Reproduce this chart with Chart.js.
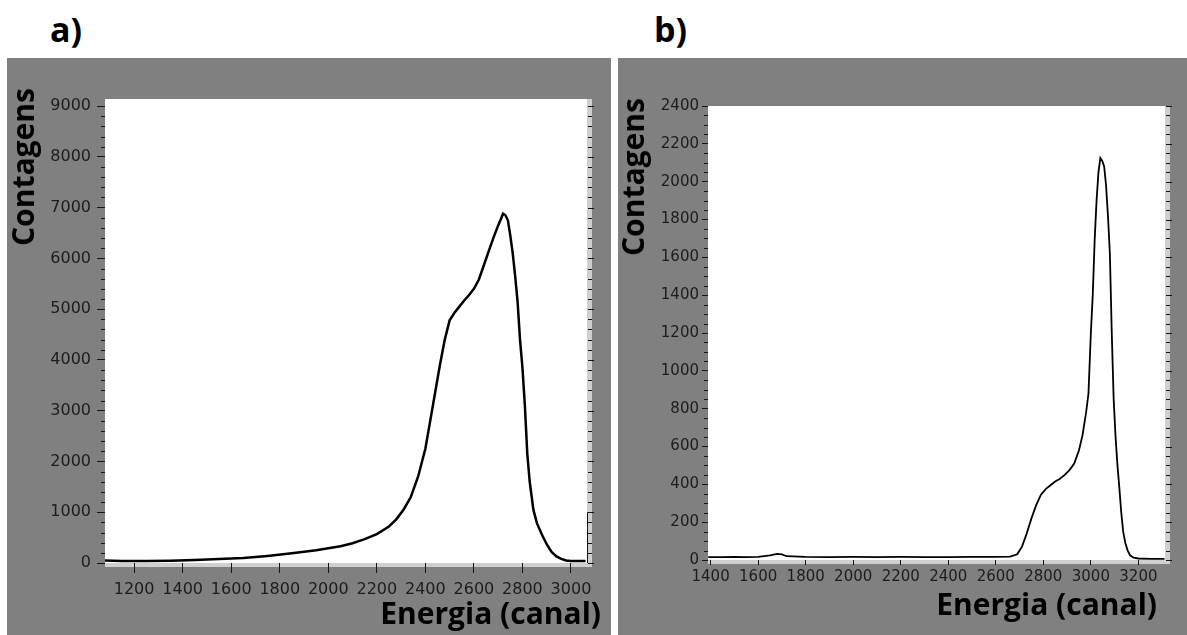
<!DOCTYPE html>
<html>
<head>
<meta charset="utf-8">
<script src="https://cdn.jsdelivr.net/npm/chart.js@4.4.1/dist/chart.umd.min.js"></script>
<style>
  html, body { margin: 0; padding: 0; background: #fff; }
  #page { position: relative; width: 1187px; height: 635px; overflow: hidden; }
  .panel { position: absolute; background: #808080; }
  .panel canvas { display: block; }
  .lbl { position: absolute; font-family: "Open Sans", Lato, sans-serif; font-weight: 700;
         color: #000; white-space: nowrap; line-height: 1; }
  .rot { transform: translate(-50%, -50%) rotate(-90deg); }
</style>
</head>
<body>
<div id="page">
  <div class="lbl" style="left:50px; top:12px; font-size:34px;">a)</div>
  <div class="lbl" style="left:654px; top:12px; font-size:34px;">b)</div>

  <div class="panel" style="left:7px; top:58px; width:604px; height:577px;">
    <canvas id="chart-a" width="604" height="577"></canvas>
  </div>
  <div class="panel" style="left:618px; top:58px; width:569px; height:577px;">
    <canvas id="chart-b" width="569" height="577"></canvas>
  </div>

  <div class="lbl rot" style="left:23px; top:167px; font-size:30px;">Contagens</div>
  <div class="lbl rot" style="left:633px; top:177px; font-size:30px;">Contagens</div>
  <div class="lbl" style="right:586px; top:598px; font-size:30px;">Energia (canal)</div>
  <div class="lbl" style="right:30px; top:589px; font-size:30px;">Energia (canal)</div>
</div>

<script>
// spectrum a) : channel vs counts
const channelsA = [1080, 1150, 1250, 1350, 1450, 1550, 1650, 1750, 1850, 1950, 2050, 2100,
  2150, 2200, 2250, 2280, 2310, 2340, 2370, 2400, 2420, 2440, 2460, 2480, 2500, 2520, 2540,
  2560, 2580, 2600, 2620, 2640, 2660, 2680, 2700, 2710, 2720, 2730, 2740, 2750, 2760, 2770,
  2780, 2790, 2800, 2810, 2820, 2830, 2845, 2860, 2880, 2900, 2920, 2940, 2960, 2980, 3000,
  3030, 3060];
const countsA = [50, 40, 40, 45, 60, 80, 100, 140, 190, 250, 330, 390,
  470, 570, 720, 860, 1050, 1300, 1700, 2250, 2800, 3350, 3900, 4400, 4780, 4930, 5050,
  5170, 5280, 5400, 5580, 5850, 6130, 6400, 6650, 6760, 6880, 6850, 6750, 6450, 6100, 5650,
  5150, 4400, 3850, 3100, 2150, 1600, 1050, 780, 560, 370, 220, 130, 80, 50, 40,
  40, 40];

// spectrum b)
const channelsB = [1390, 1450, 1500, 1550, 1600, 1650, 1680, 1700, 1720, 1800, 1900, 2000,
  2100, 2200, 2300, 2400, 2500, 2600, 2660, 2690, 2710, 2730, 2750, 2770, 2790, 2810, 2830,
  2850, 2870, 2890, 2910, 2930, 2950, 2965, 2980, 2990, 3000, 3008, 3016, 3024, 3032, 3040,
  3048, 3056, 3064, 3072, 3080, 3088, 3096, 3104, 3112, 3120, 3128, 3136, 3145, 3155, 3165,
  3180, 3200, 3250, 3310];
const countsB = [15, 15, 16, 15, 17, 25, 32, 30, 20, 16, 15, 16,
  15, 16, 15, 15, 16, 16, 18, 30, 70, 140, 220, 290, 345, 375, 395,
  415, 430, 450, 475, 510, 580, 660, 780, 880, 1200, 1400, 1690, 1900, 2050, 2125,
  2110, 2080, 1980, 1820, 1620, 1200, 850, 650, 500, 380, 250, 150, 90, 50, 25,
  12, 8, 6, 6];

// multiples of step inside [min, max]
function stepTicks(scale, step) {
  const out = [];
  for (let v = Math.ceil(scale.min / step) * step; v <= scale.max; v += step) {
    out.push({ value: v });
  }
  scale.ticks = out;
}

// white plot area, pale strips on the right/bottom edges, minor ticks
const framePlugin = {
  id: 'frame',
  beforeDraw(chart, args, opts) {
    const { ctx, chartArea: a } = chart;
    ctx.save();
    ctx.fillStyle = '#808080';
    ctx.fillRect(0, 0, chart.width, chart.height);
    ctx.fillStyle = '#ffffff';
    ctx.fillRect(a.left, a.top, a.right - a.left, a.bottom - a.top);
    ctx.fillStyle = '#cfcfcf';
    ctx.fillRect(a.left, a.bottom, a.right - a.left + opts.strip, opts.strip - 1);
    ctx.fillRect(a.right, a.top, opts.strip, a.bottom - a.top);
    ctx.restore();
  },
  afterDraw(chart, args, opts) {
    const { ctx, chartArea: a, scales: { y } } = chart;
    ctx.save();
    ctx.strokeStyle = '#151515';
    ctx.lineWidth = 1;
    ctx.beginPath();
    for (let v = 0; v <= y.max; v += opts.yMinor) {
      const py = Math.round(y.getPixelForValue(v)) + 0.5;
      const major = v % opts.yMajor === 0;
      if (!major) {
        ctx.moveTo(a.left - 4, py);
        ctx.lineTo(a.left, py);
      }
      ctx.moveTo(a.right + 1, py);
      ctx.lineTo(a.right + (major ? 7 : 5), py);
    }
    if (opts.marker) {
      const my = Math.round(y.getPixelForValue(opts.marker)) + 0.5;
      ctx.moveTo(a.right + 0.5, a.bottom);
      ctx.lineTo(a.right + 0.5, my);
      ctx.lineTo(a.right + 7, my);
    }
    ctx.stroke();
    ctx.restore();
  }
};

function makeSpectrum(id, channels, counts, cfg) {
  return new Chart(document.getElementById(id), {
    type: 'line',
    data: {
      datasets: [{
        data: channels.map((c, i) => ({ x: c, y: counts[i] })),
        borderColor: '#000',
        borderWidth: cfg.lineWidth,
        pointRadius: 0,
        tension: 0
      }]
    },
    options: {
      responsive: false,
      animation: false,
      events: [],
      layout: { padding: { top: cfg.padTop, right: cfg.padRight, left: 0, bottom: 0 } },
      plugins: {
        legend: { display: false },
        tooltip: { enabled: false },
        frame: { strip: 5, yMinor: cfg.yMinor, yMajor: cfg.yStep, marker: cfg.marker }
      },
      scales: {
        x: {
          type: 'linear',
          min: cfg.xMin,
          max: cfg.xMax,
          afterBuildTicks: s => stepTicks(s, 200),
          afterFit: s => { s.height = cfg.xAxisHeight; },
          border: { display: false },
          grid: { drawOnChartArea: false, tickLength: cfg.xTick, color: '#151515' },
          ticks: {
            autoSkip: false,
            maxRotation: 0,
            padding: cfg.xPad,
            color: '#1c1c1c',
            font: { family: 'DejaVu Sans', size: cfg.fontSize },
            callback: v => String(v)
          }
        },
        y: {
          min: 0,
          max: cfg.yMax,
          afterBuildTicks: s => stepTicks(s, cfg.yStep),
          afterFit: s => { s.width = cfg.yAxisWidth; },
          border: { display: false },
          grid: { drawOnChartArea: false, tickLength: cfg.yTick, color: '#151515' },
          ticks: {
            autoSkip: false,
            padding: cfg.yPad,
            color: '#1c1c1c',
            font: { family: 'DejaVu Sans', size: cfg.fontSize },
            callback: v => String(v)
          }
        }
      }
    },
    plugins: [framePlugin]
  });
}

const chartA = makeSpectrum('chart-a', channelsA, countsA, {
  xMin: 1080, xMax: 3066, yMax: 9140, yStep: 1000, yMinor: 200, marker: 1000,
  padTop: 41, padRight: 24, xAxisHeight: 72, yAxisWidth: 98,
  xTick: 10, xPad: 7, yTick: 8, yPad: 6, fontSize: 16, lineWidth: 2.5
});

const chartB = makeSpectrum('chart-b', channelsB, countsB, {
  xMin: 1389, xMax: 3312, yMax: 2400, yStep: 200, yMinor: 50, marker: null,
  padTop: 48, padRight: 22, xAxisHeight: 75, yAxisWidth: 90,
  xTick: 5, xPad: 3, yTick: 6, yPad: 3, fontSize: 15, lineWidth: 1.8
});
</script>
</body>
</html>
